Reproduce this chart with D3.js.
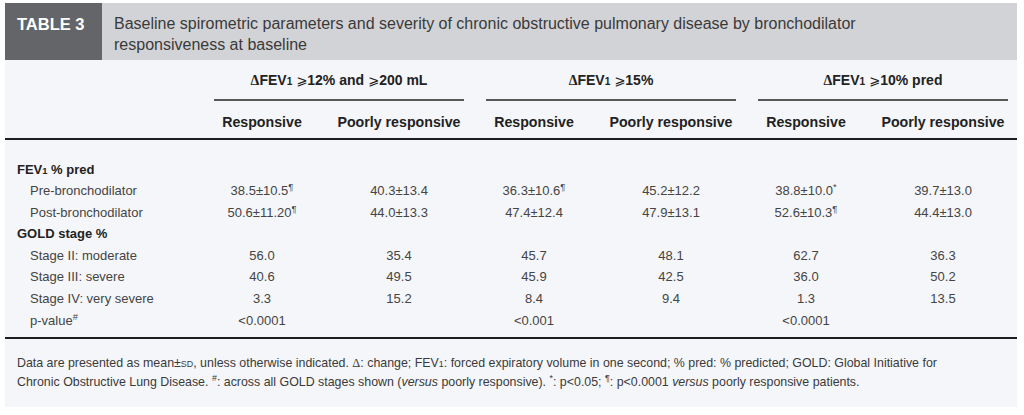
<!DOCTYPE html>
<html><head><meta charset="utf-8">
<script src="https://cdn.jsdelivr.net/npm/d3@7"></script>
<style>
html,body{margin:0;padding:0;background:#fff;}
svg{display:block;font-family:"Liberation Sans",Arial,sans-serif;}
</style></head>
<body><div id="chart"></div>
<script>
// ---------- data ----------
const tableLabel = "TABLE 3";
const titleLines = [
  "Baseline spirometric parameters and severity of chronic obstructive pulmonary disease by bronchodilator",
  "responsiveness at baseline"
];
const groups = ["ΔFEV₁ ⩾12% and ⩾200 mL", "ΔFEV₁ ⩾15%", "ΔFEV₁ ⩾10% pred"];
const subgroups = ["Responsive", "Poorly responsive"];
const rowLabels = ["FEV₁ % pred", "Pre-bronchodilator", "Post-bronchodilator", "GOLD stage %",
  "Stage II: moderate", "Stage III: severe", "Stage IV: very severe", "p-value^#"];
const rowIsHeader = [true, false, false, true, false, false, false, false];
// one array per column (group x subgroup), aligned with rowLabels
const col12Resp   = ["", "38.5±10.5^¶", "50.6±11.20^¶", "", "56.0", "40.6", "3.3", "<0.0001"];
const col12Poor   = ["", "40.3±13.4", "44.0±13.3", "", "35.4", "49.5", "15.2", ""];
const col15Resp   = ["", "36.3±10.6^¶", "47.4±12.4", "", "45.7", "45.9", "8.4", "<0.001"];
const col15Poor   = ["", "45.2±12.2", "47.9±13.1", "", "48.1", "42.5", "9.4", ""];
const col10Resp   = ["", "38.8±10.0^*", "52.6±10.3^¶", "", "62.7", "36.0", "1.3", "<0.0001"];
const col10Poor   = ["", "39.7±13.0", "44.4±13.0", "", "36.3", "50.2", "13.5", ""];
const columns = [[col12Resp, col12Poor], [col15Resp, col15Poor], [col10Resp, col10Poor]];
const footnoteLines = [
  "Data are presented as mean±§SD§, unless otherwise indicated. Δ: change; FEV₁: forced expiratory volume in one second; % pred: % predicted; GOLD: Global Initiative for",
  "Chronic Obstructive Lung Disease. ^#: across all GOLD stages shown (~versus~ poorly responsive). ^*: p<0.05; ^¶: p<0.0001 ~versus~ poorly responsive patients."
];

// ---------- rendering ----------
const W = 1024, H = 415;
const svg = d3.select("#chart").append("svg").attr("width", W).attr("height", H);

// rich text: Δ serif, ₁ small digit, ^x superscript, ⩾ symbol, §..§ small caps, ~..~ italic
function rich(textSel, str) {
  const re = /(Δ|₁|\^[¶*#]|⩾|§[^§]*§|~[^~]*~)/;
  const parts = str.split(re).filter(p => p !== "");
  parts.forEach(p => {
    const t = textSel.append("tspan");
    if (p === "Δ") t.attr("font-family", "Liberation Serif, serif").text("Δ");
    else if (p === "₁") t.attr("font-size", "0.72em").text("1");
    else if (p.startsWith("^")) t.attr("font-size", "0.72em").attr("baseline-shift", "super").text(p.slice(1));
    else if (p === "⩾") t.attr("font-family", "DejaVu Sans").attr("font-weight", "normal").attr("font-size", "0.95em").text("⩾");
    else if (p.startsWith("§")) t.attr("font-size", "0.72em").text(p.slice(1, -1));
    else if (p.startsWith("~")) t.attr("font-style", "italic").text(p.slice(1, -1));
    else t.text(p);
  });
  return textSel;
}

// backgrounds
svg.append("rect").attr("x", 5).attr("y", 3).attr("width", 1012).attr("height", 404).attr("fill", "#f5f6f9");
svg.append("rect").attr("x", 5).attr("y", 3).attr("width", 1012).attr("height", 57).attr("fill", "#d2d3d6");
svg.append("rect").attr("x", 5).attr("y", 3).attr("width", 97).attr("height", 57).attr("fill", "#636569");

svg.append("text").attr("x", 17).attr("y", 29.5).attr("fill", "#fff")
  .attr("font-weight", "bold").attr("font-size", 16.5).text(tableLabel);
svg.selectAll("text.title").data(titleLines).join("text").attr("class", "title")
  .attr("x", 114).attr("y", (d, i) => 29 + i * 21)
  .attr("fill", "#3a3a3a").attr("font-size", 16).text(d => d);

// scales
const xGroup = d3.scalePoint().domain(groups).range([339, 883]);
const xSub = d3.scalePoint().domain(subgroups).range([-77, 60]);
const y = d3.scalePoint().domain(rowLabels).range([169, 320]);

// group headers
const gh = svg.append("g");
groups.forEach(g => {
  rich(gh.append("text").attr("x", xGroup(g)).attr("y", 85).attr("text-anchor", "middle")
    .attr("font-weight", "bold").attr("font-size", 14).attr("fill", "#222"), g);
  gh.append("line").attr("x1", xGroup(g) - 125).attr("x2", xGroup(g) + 125)
    .attr("y1", 100).attr("y2", 100).attr("stroke", "#222").attr("stroke-width", 1.6);
  subgroups.forEach(s => {
    gh.append("text").attr("x", xGroup(g) + xSub(s)).attr("y", 127).attr("text-anchor", "middle")
      .attr("font-weight", "bold").attr("font-size", 14.2).attr("fill", "#222").text(s);
  });
});

// rules
[139, 338].forEach(yy => svg.append("line").attr("x1", 5).attr("x2", 1017)
  .attr("y1", yy).attr("y2", yy).attr("stroke", "#1e1e1e").attr("stroke-width", 2.2));

// row labels
rowLabels.forEach((r, i) => {
  rich(svg.append("text").attr("x", rowIsHeader[i] ? 17 : 30).attr("y", y(r) + 4.5)
    .attr("font-size", 13).attr("font-weight", rowIsHeader[i] ? "bold" : "normal")
    .attr("fill", rowIsHeader[i] ? "#222" : "#444"), r);
});

// cells
groups.forEach((g, gi) => {
  subgroups.forEach((s, si) => {
    columns[gi][si].forEach((v, ri) => {
      if (!v) return;
      rich(svg.append("text").attr("x", xGroup(g) + xSub(s)).attr("y", y(rowLabels[ri]) + 4.5)
        .attr("text-anchor", "middle").attr("font-size", 13).attr("fill", "#444"), v);
    });
  });
});

// footnote
footnoteLines.forEach((l, i) => {
  rich(svg.append("text").attr("x", 17).attr("y", 367 + i * 19)
    .attr("font-size", 12.4).attr("fill", "#3a3a3a"), l);
});
</script></body></html>
